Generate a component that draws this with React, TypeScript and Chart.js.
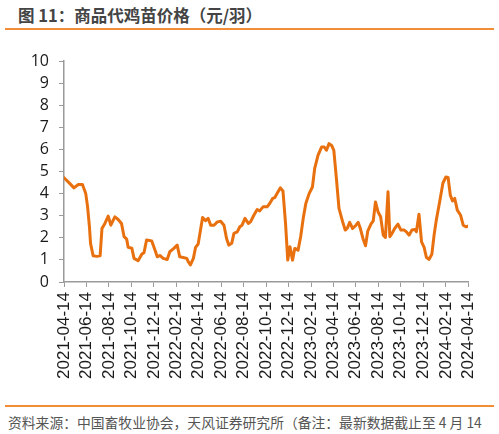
import React, { useEffect, useRef } from "react";
import { Chart, registerables } from "chart.js";

Chart.register(...registerables);

const START_DATE = "2021-04-14";

const dates: string[] = [
  "2021-04-14", "2021-04-30", "2021-05-11", "2021-05-23", "2021-06-03", "2021-06-12", "2021-06-17", "2021-06-22",
  "2021-06-25", "2021-07-02", "2021-07-12", "2021-07-21", "2021-07-26", "2021-08-03", "2021-08-12", "2021-08-19",
  "2021-08-30", "2021-09-08", "2021-09-17", "2021-09-24", "2021-10-01", "2021-10-05", "2021-10-15", "2021-10-21",
  "2021-11-01", "2021-11-11", "2021-11-17", "2021-11-24", "2021-12-08", "2021-12-17", "2021-12-23", "2021-12-30",
  "2022-01-08", "2022-01-19", "2022-01-26", "2022-02-06", "2022-02-15", "2022-02-22", "2022-03-03", "2022-03-13",
  "2022-03-17", "2022-03-23", "2022-03-31", "2022-04-06", "2022-04-13", "2022-04-20", "2022-04-25", "2022-05-03",
  "2022-05-10", "2022-05-17", "2022-05-26", "2022-06-04", "2022-06-13", "2022-06-22", "2022-06-29", "2022-07-05",
  "2022-07-13", "2022-07-19", "2022-07-28", "2022-08-04", "2022-08-10", "2022-08-18", "2022-08-27", "2022-09-02",
  "2022-09-11", "2022-09-20", "2022-09-27", "2022-10-06", "2022-10-17", "2022-10-24", "2022-11-01", "2022-11-07",
  "2022-11-13", "2022-11-22", "2022-11-29", "2022-12-06", "2022-12-12", "2022-12-18", "2022-12-25", "2022-12-31",
  "2023-01-09", "2023-01-16", "2023-01-23", "2023-01-30", "2023-02-08", "2023-02-17", "2023-02-23", "2023-03-04",
  "2023-03-14", "2023-03-21", "2023-03-27", "2023-04-03", "2023-04-10", "2023-04-16", "2023-04-23", "2023-04-30",
  "2023-05-10", "2023-05-17", "2023-05-23", "2023-05-29", "2023-06-06", "2023-06-15", "2023-06-21", "2023-06-27",
  "2023-07-04", "2023-07-11", "2023-07-17", "2023-07-26", "2023-08-01", "2023-08-07", "2023-08-14", "2023-08-21",
  "2023-08-28", "2023-09-03", "2023-09-10", "2023-09-15", "2023-09-21", "2023-09-28", "2023-10-07", "2023-10-15",
  "2023-10-24", "2023-10-30", "2023-11-06", "2023-11-14", "2023-11-22", "2023-11-26", "2023-12-03", "2023-12-10",
  "2023-12-17", "2023-12-23", "2023-12-30", "2024-01-07", "2024-01-13", "2024-01-19", "2024-01-28", "2024-02-06",
  "2024-02-14", "2024-02-20", "2024-02-26", "2024-03-03", "2024-03-09", "2024-03-16", "2024-03-25", "2024-04-01",
  "2024-04-08", "2024-04-14",
];

const prices: number[] = [
  4.72, 4.45, 4.26, 4.41, 4.41, 4.0, 3.4, 2.5,
  1.75, 1.19, 1.16, 1.19, 2.42, 2.65, 2.98, 2.57,
  2.95, 2.83, 2.65, 2.05, 1.94, 1.57, 1.53, 1.07,
  0.96, 1.26, 1.32, 1.9, 1.86, 1.44, 1.14, 1.2,
  1.07, 1.02, 1.37, 1.52, 1.67, 1.14, 1.11, 1.07,
  0.92, 0.77, 1.07, 1.57, 1.72, 2.42, 2.92, 2.77,
  2.88, 2.57, 2.57, 2.72, 2.75, 2.57, 1.97, 1.67,
  1.75, 2.2, 2.27, 2.5, 2.57, 2.88, 2.65, 2.72,
  3.02, 3.28, 3.22, 3.4, 3.4, 3.55, 3.78, 3.82,
  4.0, 4.26, 4.12, 2.65, 0.99, 1.6, 0.99, 1.52,
  1.44, 2.05, 2.88, 3.55, 4.0, 4.3, 5.13, 5.73,
  6.11, 6.11, 5.96, 6.26, 6.18, 5.96, 4.68, 3.33,
  2.72, 2.35, 2.45, 2.7, 2.42, 2.57, 2.7, 2.42,
  1.97, 1.64, 2.3, 2.63, 2.77, 3.62, 3.17, 2.95,
  2.12, 2.02, 4.08, 2.05, 2.2, 2.42, 2.62, 2.35,
  2.35, 2.27, 2.12, 2.35, 2.38, 2.27, 3.07, 1.82,
  1.57, 1.12, 1.02, 1.26, 2.12, 2.8, 3.62, 4.48,
  4.75, 4.73, 3.93, 3.67, 3.78, 3.25, 3.02, 2.57,
  2.5, 2.53,
];

const tickDates: string[] = [
  "2021-04-14", "2021-06-14", "2021-08-14", "2021-10-14", "2021-12-14",
  "2022-02-14", "2022-04-14", "2022-06-14", "2022-08-14", "2022-10-14", "2022-12-14",
  "2023-02-14", "2023-04-14", "2023-06-14", "2023-08-14", "2023-10-14", "2023-12-14",
  "2024-02-14", "2024-04-14",
];

const yTicks: number[] = [0, 1, 2, 3, 4, 5, 6, 7, 8, 9, 10];

const TITLE = "图 11：商品代鸡苗价格（元/羽）";
const SOURCE = "资料来源：中国畜牧业协会，天风证券研究所（备注：最新数据截止至 4 月 14";

function dayOf(s: string): number {
  const [y, m, d] = s.split("-").map(Number);
  const [y0, m0, d0] = START_DATE.split("-").map(Number);
  return Math.round((Date.UTC(y, m - 1, d) - Date.UTC(y0, m0 - 1, d0)) / 86400000);
}

function PriceChart() {
  const ref = useRef<HTMLCanvasElement | null>(null);
  useEffect(() => {
    if (!ref.current) return;
    const tickDays = tickDates.map(dayOf);
    const chart = new Chart(ref.current, {
      type: "line",
      data: {
        datasets: [
          {
            data: dates.map((d, i) => ({ x: dayOf(d), y: prices[i] })),
            borderColor: "#E8700E",
            borderWidth: 3,
            pointRadius: 0,
            tension: 0,
            borderJoinStyle: "round",
            borderCapStyle: "round",
            fill: false,
          },
        ],
      },
      options: {
        animation: false,
        responsive: true,
        maintainAspectRatio: false,
        layout: { padding: { top: 21, right: 31, left: 0, bottom: 0 } },
        plugins: { legend: { display: false }, tooltip: { enabled: false } },
        scales: {
          x: {
            type: "linear",
            min: tickDays[0],
            max: tickDays[tickDays.length - 1],
            afterBuildTicks: (scale: any) => {
              scale.ticks = tickDays.map((v) => ({ value: v }));
            },
            afterFit: (scale: any) => {
              scale.height = 108;
            },
            grid: { display: true, drawOnChartArea: false, tickLength: 5, color: "#9a9a9a" },
            border: { display: true, color: "#9a9a9a", width: 1.5 },
            ticks: {
              autoSkip: false,
              minRotation: 90,
              maxRotation: 90,
              padding: 5,
              color: "#1a1a1a",
              font: { family: "'Liberation Sans', Arial, sans-serif", size: 17 },
              callback: (v: any) => {
                const i = tickDays.indexOf(Number(v));
                return i >= 0 ? tickDates[i] : "";
              },
            },
          },
          y: {
            min: yTicks[0],
            max: yTicks[yTicks.length - 1],
            afterBuildTicks: (scale: any) => {
              scale.ticks = yTicks.map((v) => ({ value: v }));
            },
            afterFit: (scale: any) => {
              scale.width = 64;
            },
            grid: { display: true, drawOnChartArea: false, tickLength: 5, color: "#9a9a9a" },
            border: { display: true, color: "#9a9a9a", width: 1.5 },
            ticks: {
              autoSkip: false,
              padding: 10,
              color: "#1a1a1a",
              font: { family: "'Open Sans', 'Liberation Sans', sans-serif", size: 16 },
              callback: (v: any) => String(v),
            },
          },
        },
      },
    });
    return () => chart.destroy();
  }, []);
  return (
    <div style={{ position: "absolute", left: 0, top: 40, width: 499, height: 350 }}>
      <canvas ref={ref} />
    </div>
  );
}

export default function App() {
  return (
    <div
      style={{
        position: "fixed",
        left: 0,
        top: 0,
        width: 499,
        height: 434,
        background: "#fff",
        overflow: "hidden",
        fontFamily: "'Noto Sans CJK SC', 'Noto Sans', sans-serif",
      }}
    >
      <div
        style={{
          position: "absolute",
          left: 18,
          top: 4,
          fontSize: 16.5,
          fontWeight: 700,
          color: "#444",
          lineHeight: "22px",
          whiteSpace: "nowrap",
        }}
      >
        {TITLE}
      </div>
      <div style={{ position: "absolute", left: 5, top: 28, width: 489, height: 2, background: "#F28C36" }} />
      <PriceChart />
      <div style={{ position: "absolute", left: 5, top: 405, width: 489, height: 2, background: "#F28C36" }} />
      <div
        style={{
          position: "absolute",
          left: 8,
          top: 412,
          fontSize: 13.8,
          color: "#555",
          lineHeight: "20px",
          whiteSpace: "nowrap",
        }}
      >
        {SOURCE}
      </div>
    </div>
  );
}
